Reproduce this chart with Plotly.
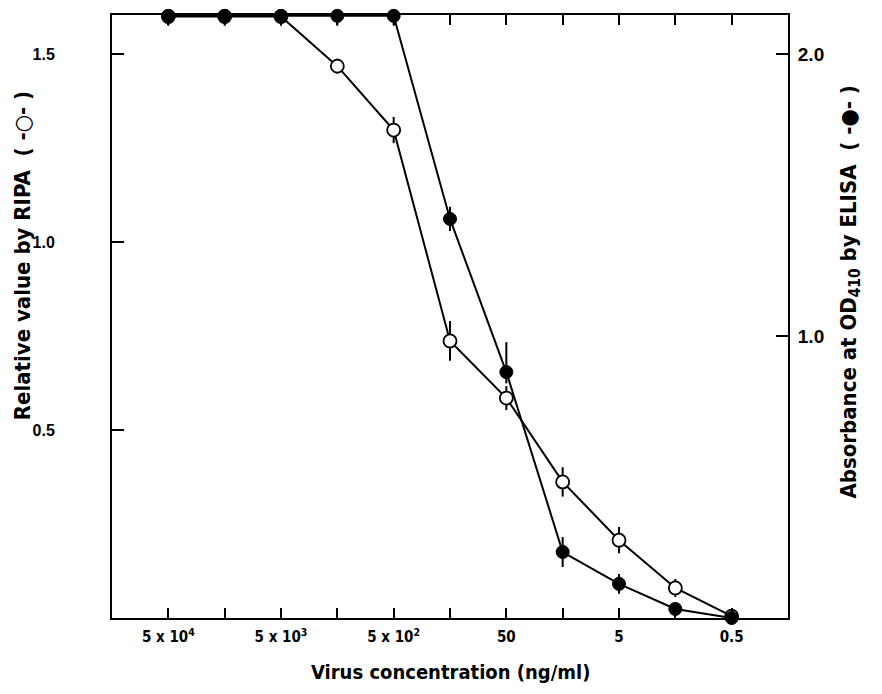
import plotly.graph_objects as go

# Data
positions = list(range(11))
tick_positions = [0, 2, 4, 6, 8, 10]
minor_positions = [1, 3, 5, 7, 9]
tick_labels = ["5 x 10<sup>4</sup>", "5 x 10<sup>3</sup>", "5 x 10<sup>2</sup>", "50", "5", "0.5"]

ripa = [1.60, 1.60, 1.60, 1.468, 1.298, 0.737, 0.585, 0.362, 0.207, 0.080, 0.005]
ripa_err_plus = [0, 0, 0, 0.02, 0.035, 0.053, 0.032, 0.039, 0.035, 0.024, 0.01]
ripa_err_minus = [0, 0, 0, 0.02, 0.035, 0.053, 0.032, 0.039, 0.035, 0.024, 0.0]

elisa = [2.135, 2.135, 2.135, 2.135, 2.135, 1.415, 0.872, 0.234, 0.121, 0.032, 0.0]
elisa_err_plus = [0, 0, 0, 0, 0, 0.043, 0.106, 0.053, 0.035, 0.025, 0.0]
elisa_err_minus = [0.035, 0.035, 0.035, 0.035, 0.035, 0.043, 0.04, 0.053, 0.035, 0.025, 0.0]

x_title = "Virus concentration (ng/ml)"
y_title = "Relative value by RIPA  ( -○- )"
y2_title = "Absorbance at OD<sub>410</sub> by ELISA  ( -●- )"

NARROW = "DejaVu Sans Condensed"
SANS = "Liberation Sans"

fig = go.Figure()

fig.add_trace(go.Scatter(
    x=positions, y=ripa, mode="lines+markers", yaxis="y",
    line=dict(color="black", width=2),
    marker=dict(symbol="circle", size=13, color="white", line=dict(color="black", width=1.8)),
    error_y=dict(type="data", symmetric=False, array=ripa_err_plus, arrayminus=ripa_err_minus,
                 color="black", thickness=2, width=0),
    cliponaxis=False, showlegend=False,
))

fig.add_trace(go.Scatter(
    x=positions, y=elisa, mode="lines+markers", yaxis="y2",
    line=dict(color="black", width=2),
    marker=dict(symbol="circle", size=13, color="black", line=dict(color="black", width=1)),
    error_y=dict(type="data", symmetric=False, array=elisa_err_plus, arrayminus=elisa_err_minus,
                 color="black", thickness=2, width=0),
    cliponaxis=False, showlegend=False,
))

fig.update_layout(
    width=866, height=678,
    margin=dict(l=104, r=86, t=7, b=68),
    paper_bgcolor="white", plot_bgcolor="white",
    font=dict(family=SANS, color="black"),
    xaxis=dict(
        range=[-1, 11], tickmode="array", tickvals=tick_positions, ticktext=tick_labels,
        ticks="inside", ticklen=10, tickwidth=2, tickcolor="black",
        minor=dict(tickmode="array", tickvals=minor_positions, ticks="inside", ticklen=10,
                   tickwidth=2, tickcolor="black", showgrid=False),
        showline=True, linecolor="black", linewidth=2, mirror="allticks",
        showgrid=False, zeroline=False, automargin=False,
        tickfont=dict(size=15, family=NARROW, weight="bold"),
        ticklabelstandoff=4,
    ),
    yaxis=dict(
        range=[0, 1.604], tickmode="array", tickvals=[0.5, 1.0, 1.5], ticktext=["0.5", "1.0", "1.5"],
        ticks="inside", ticklen=12, tickwidth=2, tickcolor="black",
        showline=True, linecolor="black", linewidth=2,
        showgrid=False, zeroline=False, automargin=False,
        tickfont=dict(size=16, family=SANS, weight="bold"),
        ticklabelstandoff=52,
    ),
    yaxis2=dict(
        range=[0, 2.138], overlaying="y", side="right",
        tickmode="array", tickvals=[1.0, 2.0], ticktext=["1.0", "2.0"],
        ticks="inside", ticklen=12, tickwidth=2, tickcolor="black",
        showline=True, linecolor="black", linewidth=2,
        showgrid=False, zeroline=False, automargin=False,
        tickfont=dict(size=19, family=SANS, weight="bold"),
        ticklabelstandoff=4,
    ),
    annotations=[
        dict(text=x_title, xref="paper", yref="paper", x=0.5, y=-0.09,
             xanchor="center", yanchor="middle", showarrow=False,
             font=dict(size=20, family=NARROW, weight="bold")),
        dict(text=y_title, xref="paper", yref="paper", x=-0.133, y=0.60, textangle=-90,
             xanchor="center", yanchor="middle", showarrow=False,
             font=dict(size=22, family=NARROW, weight="bold")),
        dict(text=y2_title, xref="paper", yref="paper", x=1.092, y=0.54, textangle=-90,
             xanchor="center", yanchor="middle", showarrow=False,
             font=dict(size=22, family=NARROW, weight="bold")),
    ],
)

fig.write_html("out.html")
